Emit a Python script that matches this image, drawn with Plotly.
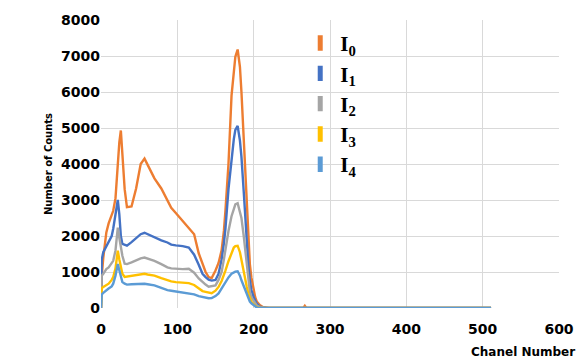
import plotly.graph_objects as go

# Channel numbers at which the spectra were read
channels = [0, 1, 3, 7, 10, 14, 16, 19, 22, 24, 26, 28, 31, 34, 40, 46, 52, 57, 61, 70,
            79, 87, 92, 98, 107, 115, 122, 128, 133, 137, 141, 145, 150, 154, 158, 161,
            163, 167, 171, 174, 176, 179, 182, 184, 187, 189, 191, 193, 195, 197, 200,
            202, 204, 208, 212, 216, 220, 265, 267, 269, 511]

i0 = [0, 900, 1400, 2100, 2350, 2600, 2700, 3050, 4050, 4600, 4930, 4300, 3300, 2800,
      2820, 3320, 4000, 4150, 3970, 3600, 3320, 3000, 2780, 2640, 2410, 2230, 2050, 1520,
      1200, 1000, 860, 830, 1040, 1250, 1600, 2140, 2700, 4000, 5900, 6500, 6980, 7180,
      6700, 6000, 4600, 3700, 2870, 2000, 1220, 850, 450, 300, 180, 80, 30, 10, 0,
      0, 60, 0, 0]
i1 = [0, 1350, 1550, 1730, 1850, 2000, 2200, 2600, 3000, 2600, 2000, 1780, 1750, 1730,
      1830, 1950, 2050, 2090, 2050, 1950, 1880, 1820, 1760, 1740, 1720, 1680, 1480, 1200,
      950, 860, 785, 760, 780, 950, 1350, 1800, 2200, 3300, 4200, 4690, 4950, 5060, 4650,
      4200, 3230, 2500, 1770, 1200, 770, 500, 300, 200, 120, 40, 10, 0, 0,
      0, 0, 0, 0]
i2 = [0, 900, 950, 1080, 1130, 1250, 1310, 1600, 2230, 1950, 1680, 1450, 1230, 1220,
      1270, 1330, 1380, 1400, 1370, 1310, 1220, 1130, 1100, 1090, 1080, 1090, 980, 820,
      720, 650, 590, 600, 630, 780, 1000, 1350, 1650, 2140, 2550, 2780, 2880, 2910, 2700,
      2500, 2000, 1590, 1150, 675, 450, 300, 200, 130, 70, 25, 5, 0, 0,
      0, 0, 0, 0]
i3 = [0, 550, 585, 650, 675, 780, 860, 1100, 1590, 1350, 1130, 950, 860, 870,
      880, 900, 930, 950, 930, 900, 830, 770, 740, 720, 700, 690, 640, 540,
      470, 450, 420, 410, 480, 585, 750, 900, 1040, 1300, 1500, 1680, 1720, 1730, 1550,
      1310, 1000, 760, 585, 400, 280, 175, 100, 60, 30, 10, 0, 0, 0,
      0, 0, 0, 0]
i4 = [0, 380, 420, 500, 540, 600, 675, 900, 1220, 1050, 860, 720, 675, 650,
      660, 670, 675, 675, 660, 630, 560, 495, 480, 460, 430, 405, 380, 330,
      310, 280, 270, 275, 330, 405, 550, 650, 720, 850, 950, 990, 1010, 1020, 900,
      770, 600, 480, 400, 250, 180, 130, 80, 40, 15, 0, 0, 0, 0,
      0, 0, 0, 0]

series = [i0, i1, i2, i3, i4]
names = ["I<sub>0</sub>", "I<sub>1</sub>", "I<sub>2</sub>", "I<sub>3</sub>", "I<sub>4</sub>"]
colors = ["#ED7D31", "#4472C4", "#A5A5A5", "#FFC000", "#5B9BD5"]

x_ticks = [0, 100, 200, 300, 400, 500, 600]
y_ticks = [0, 1000, 2000, 3000, 4000, 5000, 6000, 7000, 8000]

fig = go.Figure()
for vals, name, col in zip(series, names, colors):
    fig.add_trace(go.Scatter(x=channels, y=vals, mode="lines", name=name,
                             line=dict(color=col, width=2.4), legendgroup=name,
                             showlegend=False))
for name, col in zip(names, colors):
    fig.add_trace(go.Scatter(x=[None], y=[None], mode="markers", name=name,
                             legendgroup=name,
                             marker=dict(symbol="line-ns", size=11,
                                         line=dict(color=col, width=7))))

fig.update_layout(
    width=586, height=363,
    margin=dict(l=101, r=21, t=16, b=55),
    paper_bgcolor="white", plot_bgcolor="white",
    font=dict(family="DejaVu Sans", color="#000000"),
    showlegend=True,
    legend=dict(x=0.435, y=0.99, xanchor="left", yanchor="top",
                bgcolor="rgba(0,0,0,0)", tracegroupgap=0,
                font=dict(family="Liberation Serif", size=21, color="#000000",
                          weight="bold"),
                itemwidth=30),
    xaxis=dict(range=[0, 600], tickvals=x_ticks, ticktext=[str(v) for v in x_ticks],
               showgrid=True, gridcolor="#D9D9D9", gridwidth=1, zeroline=False,
               showline=False, ticks="outside", ticklen=8, tickcolor="rgba(0,0,0,0)",
               tickfont=dict(family="DejaVu Sans", size=14, color="#000000",
                             weight="bold")),
    yaxis=dict(range=[0, 8000], tickvals=y_ticks, ticktext=[str(v) for v in y_ticks],
               showgrid=True, gridcolor="#D9D9D9", gridwidth=1, zeroline=False,
               showline=False, ticks="",
               tickfont=dict(family="DejaVu Sans", size=14, color="#000000",
                             weight="bold"),
               title=dict(text="<b>Number of Counts</b>", standoff=6,
                          font=dict(family="DejaVu Sans", size=10, color="#000000"))),
    annotations=[dict(text="<b>Chanel Number</b>", x=1.039, y=-0.12,
                      xref="paper", yref="paper", xanchor="right", yanchor="top",
                      showarrow=False,
                      font=dict(family="DejaVu Sans", size=12, color="#000000"))],
)

fig.write_html("out.html")
